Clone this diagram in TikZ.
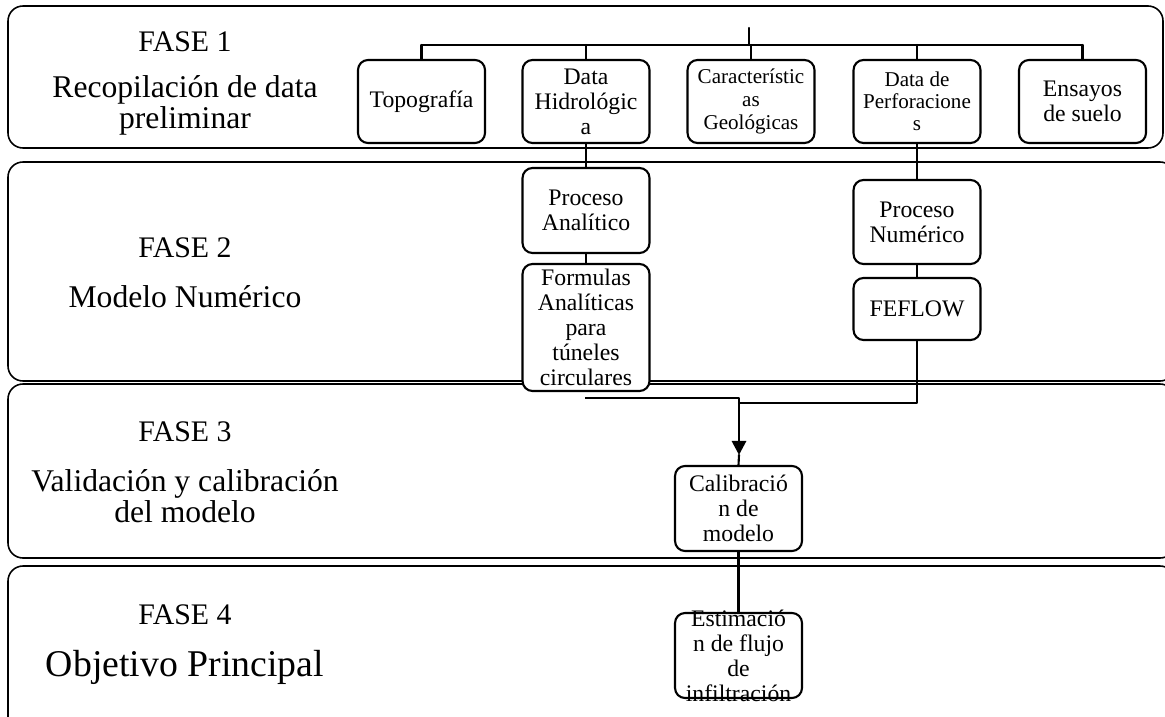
\documentclass[tikz,border=0pt]{standalone}
\usepackage{fontspec}
\setmainfont{Liberation Serif}
\usetikzlibrary{arrows.meta}

\tikzset{
	panel/.style={line width=0.9pt, rounded corners=0.3cm},
	caja/.style={draw, fill=white, line width=1.2pt, rounded corners=0.2cm, minimum width=2.54cm, minimum height=1.66cm, inner sep=0pt, align=center, font=\fontsize{13.5}{14.2}\selectfont},
	fase/.style={font=\fontsize{17}{20}\selectfont},
	desc/.style={align=center, font=\fontsize{18}{17.6}\selectfont},
	enlace/.style={line width=1.2pt}
}

\begin{document}
\begin{tikzpicture}[line cap=round,line join=round,x=0.02cm,y=-0.02cm]
	\useasboundingbox (0,0) rectangle (1165,716);
	\clip (0,0) rectangle (1165,716);
	% fases
	\draw[panel] (8,6) rectangle (1163,148);
	\draw[panel] (8,162) rectangle (1175,381);
	\draw[panel] (8,384) rectangle (1175,558);
	\draw[panel] (8,566) rectangle (1175,740);
	\node[fase] (f1) at (185,42) {FASE 1};
	\node[desc] (d1) at (185,105) {Recopilación de data\\preliminar};
	\node[fase] (f2) at (185,248) {FASE 2};
	\node[desc] (d2) at (185,297) {Modelo Numérico};
	\node[fase] (f3) at (185,432) {FASE 3};
	\node[desc] (d3) at (185,496) {Validación y calibración\\del modelo};
	\node[fase] (f4) at (185,615) {FASE 4};
	\node[desc, font=\fontsize{21.5}{24}\selectfont] (d4) at (185,667) {Objetivo Principal};
	% fase 1
	\node[caja] (topo) at (421.5,101.5) {Topografía};
	\node[caja] (hidro) at (586,101.5) {Data\\Hidrológic\\a};
	\node[caja, font=\fontsize{12}{13}\selectfont] (geol) at (751,101.5) {Característic\\as\\Geológicas};
	\node[caja, font=\fontsize{12}{12.5}\selectfont] (perf) at (917,101.5) {Data de\\Perforacione\\s};
	\node[caja] (ensayo) at (1082.5,101.5) {Ensayos\\de suelo};
	\coordinate (raiz) at (749,28);
	\coordinate (bus) at (749,45);
	\draw[enlace] (raiz) -- (bus);
	\draw[enlace] (topo.north |- bus) -- (ensayo.north |- bus);
	\foreach \n in {topo,hidro,geol,perf,ensayo}
		\draw[enlace] (\n.north) -- (\n.north |- bus);
	% fase 2
	\node[caja, minimum height=1.7cm] (panal) at (586,210.5) {Proceso\\Analítico};
	\node[caja, minimum height=2.54cm] (form) at (586,327.5) {Formulas\\Analíticas\\para\\túneles\\circulares};
	\node[caja, minimum height=1.68cm] (pnum) at (917,222) {Proceso\\Numérico};
	\node[caja, minimum height=1.24cm] (feflow) at (917,309) {FEFLOW};
	\draw[enlace] (hidro.south) -- (panal.north);
	\draw[enlace] (panal.south) -- (form.north);
	\draw[enlace] (perf.south) -- (pnum.north);
	\draw[enlace] (pnum.south) -- (feflow.north);
	% fase 3 y 4
	\node[caja, minimum height=1.7cm] (calib) at (738.5,508.5) {Calibració\\n de\\modelo};
	\node[caja, minimum height=1.7cm] (estim) at (738.5,655.5) {\parbox[c][1.5cm][c]{2.5cm}{\centering Estimació\\n de flujo\\de\\infiltración}};
	\coordinate (codo) at (739,403);
	\coordinate (punta) at (739,455);
	\coordinate (fin) at (585,398);
	\draw[enlace] (feflow.south) |- (codo);
	\draw[line width=0.6pt, line cap=butt] (fin) -| (codo);
	\draw[line width=1.6pt, -{Triangle[length=8pt,width=8pt]}] (codo) -- (punta);
	\draw[enlace] (punta) -- (calib.north);
	\draw[enlace] (calib.south) -- (estim.north);
\end{tikzpicture}
\end{document}
